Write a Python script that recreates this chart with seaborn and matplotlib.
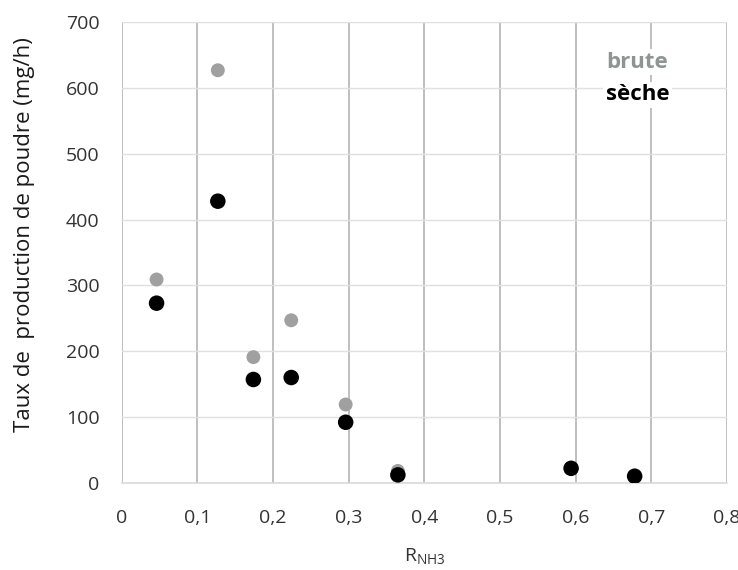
import matplotlib
matplotlib.use("Agg")
import matplotlib.pyplot as plt
import pandas as pd
import seaborn as sns
from matplotlib.ticker import FuncFormatter, MultipleLocator

# values
r_nh3_brute = [0.046, 0.127, 0.174, 0.224, 0.296, 0.365]
taux_brute = [309, 627, 191, 247, 119, 18]
r_nh3_seche = [0.046, 0.127, 0.174, 0.224, 0.296, 0.365, 0.594, 0.678]
taux_seche = [273, 428, 157, 160, 92, 12, 22, 10]
series_names = ["brute", "sèche"]
series_colors = ["#a0a0a0", "#000000"]
legend_colors = ["#8f9494", "#000000"]

df = pd.concat([
    pd.DataFrame({"r": r_nh3_brute, "taux": taux_brute, "serie": series_names[0]}),
    pd.DataFrame({"r": r_nh3_seche, "taux": taux_seche, "serie": series_names[1]}),
])

sns.set_style("white")
plt.rcParams["font.family"] = ["Open Sans", "DejaVu Sans"]

fig = plt.figure(figsize=(7.38, 5.70), dpi=100)
ax = fig.add_axes([0.165, 0.153, 0.82, 0.808])

sns.scatterplot(data=df, x="r", y="taux", hue="serie", palette=series_colors,
                size="serie", sizes={"brute": 100, "sèche": 125},
                edgecolor="none", legend=False, ax=ax, zorder=3)

ax.set_xlim(0, 0.8)
ax.set_ylim(0, 700)
ax.xaxis.set_major_locator(MultipleLocator(0.1))
ax.yaxis.set_major_locator(MultipleLocator(100))
ax.xaxis.set_major_formatter(FuncFormatter(lambda v, p: "0" if abs(v) < 1e-9 else f"{v:.1f}".replace(".", ",")))

ax.grid(axis="x", color="#b4b4b4", linewidth=1.2)
ax.grid(axis="y", color="#e0e0e0", linewidth=1.0)
ax.set_axisbelow(True)
for side in ["top", "left", "right"]:
    ax.spines[side].set_visible(False)
ax.spines["bottom"].set_color("#d9d9d9")
ax.spines["bottom"].set_linewidth(1.2)

ax.tick_params(axis="both", length=0, labelsize=14, labelcolor="#333333")
ax.tick_params(axis="y", pad=16)
ax.tick_params(axis="x", pad=19)
ax.set_xlabel("R$_{\\mathregular{NH3}}$", fontsize=14, color="#333333", va="top")
ax.xaxis.set_label_coords(0.5, -0.139)
ax.set_ylabel("Taux de  production de poudre (mg/h)", fontsize=16, color="#1a1a1a")
ax.yaxis.set_label_coords(-0.144, 0.538)

# legend drawn as coloured text on a white patch, like the original
for name, color, yy in zip(series_names, legend_colors, [0.913, 0.842]):
    ax.text(0.80, yy, name, transform=ax.transAxes, ha="left", va="center",
            color=color, fontsize=16, fontweight="bold",
            bbox=dict(facecolor="white", edgecolor="none", pad=2))

fig.savefig("out.png", dpi=100)
